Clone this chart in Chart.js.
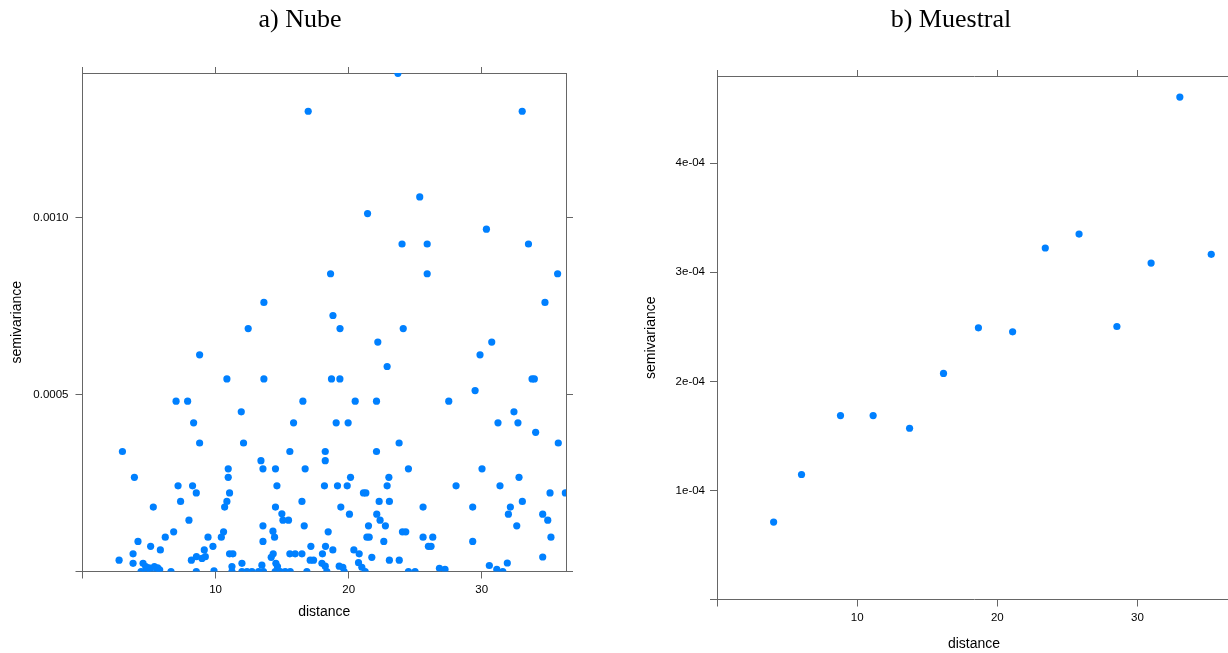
<!DOCTYPE html>
<html>
<head>
<meta charset="utf-8">
<script src="https://cdn.jsdelivr.net/npm/chart.js@4.4.1/dist/chart.umd.min.js"></script>
<style>
  html, body { margin: 0; padding: 0; background: #fff; overflow: hidden; width: 1228px; height: 653px; }
  canvas { position: absolute; top: 0; }
  #cloudChart { left: 0; }
  #sampleChart { left: 614px; }
</style>
</head>
<body>
<canvas id="cloudChart" width="614" height="653"></canvas>
<canvas id="sampleChart" width="660" height="653"></canvas>
<script>
// Panel titles
const cloudTitle = "a) Nube";
const sampleTitle = "b) Muestral";

// Shared x ticks (distance)
const distTicks = [0, 10, 20, 30];
const distLabels = ["", "10", "20", "30"];

// a) semivariogram cloud: [distance, semivariance]
const cloudPoints = [
  [23.7, 14.07e-4], [16.96, 13.0e-4], [33.04, 13.0e-4], [25.34, 10.58e-4], [21.42, 10.11e-4],
  [30.35, 9.67e-4], [24.01, 9.25e-4], [25.9, 9.25e-4], [33.51, 9.25e-4], [18.64, 8.41e-4],
  [25.9, 8.41e-4], [35.7, 8.41e-4], [13.63, 7.6e-4], [34.75, 7.6e-4], [18.82, 7.23e-4],
  [12.45, 6.86e-4], [19.35, 6.86e-4], [24.1, 6.86e-4],
  [22.19, 6.48e-4], [30.75, 6.48e-4], [8.8, 6.12e-4], [29.87, 6.12e-4], [22.89, 5.79e-4],
  [10.85, 5.44e-4], [13.63, 5.44e-4], [18.71, 5.44e-4], [19.34, 5.44e-4], [33.78, 5.44e-4],
  [33.95, 5.44e-4], [29.5, 5.11e-4],
  [7.03, 4.81e-4], [7.9, 4.81e-4], [16.56, 4.81e-4], [20.49, 4.81e-4], [22.09, 4.81e-4], [27.52, 4.81e-4],
  [11.93, 4.51e-4], [32.42, 4.51e-4],
  [8.35, 4.2e-4], [15.86, 4.2e-4], [19.06, 4.2e-4], [19.96, 4.2e-4], [31.22, 4.2e-4], [32.72, 4.2e-4],
  [34.05, 3.93e-4], [8.8, 3.63e-4], [12.1, 3.63e-4], [23.79, 3.63e-4], [35.75, 3.63e-4],
  [3.0, 3.39e-4], [15.58, 3.39e-4], [18.24, 3.39e-4], [22.09, 3.39e-4],
  [13.41, 3.13e-4], [18.24, 3.13e-4],
  [10.95, 2.9e-4], [13.56, 2.9e-4], [14.5, 2.9e-4], [16.73, 2.9e-4], [24.49, 2.9e-4], [30.02, 2.9e-4],
  [3.9, 2.66e-4], [10.95, 2.66e-4], [20.14, 2.66e-4], [23.02, 2.66e-4], [32.8, 2.66e-4],
  [7.18, 2.42e-4], [8.27, 2.42e-4], [14.61, 2.42e-4], [18.18, 2.42e-4], [19.16, 2.42e-4],
  [19.89, 2.42e-4], [22.89, 2.42e-4], [28.07, 2.42e-4], [31.37, 2.42e-4],
  [8.55, 2.22e-4], [11.05, 2.22e-4], [21.11, 2.22e-4], [21.29, 2.22e-4], [35.13, 2.22e-4], [36.28, 2.22e-4],
  [7.37, 1.98e-4], [10.85, 1.98e-4], [16.49, 1.98e-4], [22.29, 1.98e-4], [23.06, 1.98e-4], [33.05, 1.98e-4],
  [5.32, 1.82e-4], [10.68, 1.82e-4], [14.5, 1.82e-4], [19.41, 1.82e-4], [25.59, 1.82e-4],
  [29.32, 1.82e-4], [32.15, 1.82e-4],
  [14.98, 1.63e-4], [20.06, 1.62e-4], [22.11, 1.62e-4], [32.0, 1.62e-4], [34.58, 1.62e-4],
  [8.0, 1.45e-4], [15.06, 1.45e-4], [15.48, 1.45e-4], [22.36, 1.45e-4], [34.96, 1.45e-4],
  [13.56, 1.29e-4], [16.66, 1.29e-4], [21.49, 1.29e-4], [22.76, 1.29e-4], [32.63, 1.29e-4],
  [6.85, 1.12e-4], [10.6, 1.12e-4], [14.31, 1.14e-4], [18.46, 1.12e-4], [24.04, 1.12e-4], [24.29, 1.12e-4],
  [6.22, 0.97e-4], [9.43, 0.97e-4], [10.43, 0.97e-4], [14.43, 0.97e-4], [21.37, 0.97e-4],
  [21.54, 0.97e-4], [25.59, 0.97e-4], [26.32, 0.97e-4], [35.2, 0.97e-4],
  [4.17, 0.85e-4], [13.56, 0.85e-4], [22.64, 0.85e-4], [29.32, 0.85e-4],
  [5.12, 0.71e-4], [9.8, 0.71e-4], [17.16, 0.71e-4], [18.26, 0.71e-4], [25.99, 0.71e-4], [26.19, 0.71e-4],
  [5.85, 0.61e-4], [9.15, 0.61e-4], [18.81, 0.61e-4], [20.39, 0.61e-4],
  [3.8, 0.5e-4], [11.05, 0.5e-4], [11.3, 0.5e-4], [14.33, 0.5e-4], [15.58, 0.5e-4], [15.98, 0.5e-4],
  [16.49, 0.5e-4], [18.03, 0.5e-4], [20.79, 0.5e-4],
  [8.56, 0.42e-4], [9.23, 0.42e-4], [8.98, 0.37e-4], [14.18, 0.4e-4], [21.74, 0.4e-4], [34.58, 0.41e-4],
  [2.75, 0.32e-4], [8.18, 0.32e-4], [17.11, 0.32e-4], [17.36, 0.32e-4], [23.06, 0.32e-4], [23.8, 0.32e-4],
  [3.8, 0.23e-4], [4.55, 0.23e-4], [11.98, 0.23e-4], [14.53, 0.23e-4], [17.99, 0.23e-4],
  [20.74, 0.25e-4], [31.92, 0.24e-4],
  [13.48, 0.18e-4], [30.57, 0.17e-4], [18.24, 0.15e-4], [19.29, 0.15e-4],
  [4.75, 0.14e-4], [5.4, 0.14e-4], [11.23, 0.14e-4], [14.65, 0.14e-4], [19.56, 0.12e-4], [20.99, 0.12e-4],
  [5.0, 0.1e-4], [5.65, 0.1e-4], [26.82, 0.09e-4], [5.8, 0.05e-4], [27.24, 0.06e-4], [31.13, 0.06e-4],
  [9.88, 0.02e-4],
  [4.4, 0], [4.72, 0], [5.1, 0], [5.6, 0], [6.65, 0], [8.55, 0], [11.23, 0], [11.98, 0], [12.36, 0],
  [12.73, 0], [13.23, 0], [13.6, 0], [14.48, 0], [14.86, 0], [15.23, 0], [15.61, 0], [16.86, 0],
  [18.36, 0], [19.66, 0], [21.24, 0], [24.49, 0], [24.99, 0], [31.58, 0]
];
const cloudYTicks = [0, 0.0005, 0.0010];
const cloudYLabels = ["", "0.0005", "0.0010"];

// b) sample variogram
const sampleDist = [4.04, 6.03, 8.81, 11.14, 13.74, 16.16, 18.65, 21.09, 23.42, 25.83, 28.53, 30.97, 33.02, 35.26];
const sampleGamma = [0.710e-4, 1.146e-4, 1.686e-4, 1.686e-4, 1.570e-4, 2.073e-4, 2.491e-4,
  2.454e-4, 3.223e-4, 3.351e-4, 2.503e-4, 3.085e-4, 4.607e-4, 3.165e-4];
const sampleYTicks = [0, 1e-4, 2e-4, 3e-4, 4e-4];
const sampleYLabels = ["", "1e-04", "2e-04", "3e-04", "4e-04"];

const lineColor = "#666";
const dotColor = "#0080ff";
const sansFont = "'Liberation Sans', Arial, sans-serif";
const serifFont = "'Liberation Serif', 'Times New Roman', serif";

function fixedTicks(values) {
  return function (scale) { scale.ticks = values.map(v => ({ value: v })); };
}

function grid(len) {
  return { display: true, drawOnChartArea: false, drawTicks: true, tickLength: len, tickColor: lineColor, lineWidth: 1 };
}

function axes(p) {
  const tickFont = { family: sansFont, size: 11.5 };
  const titleFont = { family: sansFont, size: 14 };
  return {
    x: {
      type: "linear", position: "bottom", min: p.xMin, max: p.xMax, bounds: "data",
      afterBuildTicks: fixedTicks(distTicks),
      afterFit: s => { s.height = p.bottomH; },
      grid: grid(7), border: { display: true, color: lineColor, width: 1 },
      ticks: { autoSkip: false, maxRotation: 0, padding: 4, color: "#000", font: tickFont,
        callback: (v, i) => distLabels[i] },
      title: { display: true, text: "distance", color: "#000", font: titleFont, padding: { top: 0, bottom: p.xTitlePad } }
    },
    x2: {
      type: "linear", position: "top", min: p.xMin, max: p.xMax, bounds: "data",
      afterBuildTicks: fixedTicks(distTicks),
      afterFit: s => { s.height = p.topH; },
      grid: grid(6), border: { display: true, color: lineColor, width: 1 },
      ticks: { display: false }
    },
    y: {
      type: "linear", position: "left", min: 0, max: p.yMax, bounds: "data",
      afterBuildTicks: fixedTicks(p.yTicks),
      afterFit: s => { s.width = p.leftW; },
      grid: grid(7), border: { display: true, color: lineColor, width: 1 },
      ticks: { autoSkip: false, padding: p.yTickPad, color: "#000", font: tickFont,
        callback: (v, i) => p.yLabels[i] },
      title: { display: true, text: "semivariance", color: "#000", font: titleFont, padding: { top: p.yTitlePad, bottom: 0 } }
    },
    y2: {
      type: "linear", position: "right", min: 0, max: p.yMax, bounds: "data",
      afterBuildTicks: fixedTicks(p.yTicks),
      afterFit: s => { s.width = p.rightW; },
      grid: grid(7), border: { display: true, color: lineColor, width: 1 },
      ticks: { display: false }
    }
  };
}

function makeChart(id, title, points, p) {
  return new Chart(document.getElementById(id), {
    type: "scatter",
    data: {
      datasets: [{
        data: points,
        backgroundColor: dotColor,
        borderColor: dotColor,
        pointRadius: 3.6,
        pointHoverRadius: 3.6,
        pointBorderWidth: 0,
        clip: 0
      }]
    },
    options: {
      responsive: false,
      animation: false,
      events: [],
      layout: { padding: { left: p.padL, right: p.padR, top: 0, bottom: 0 } },
      plugins: {
        legend: { display: false },
        tooltip: { enabled: false },
        title: { display: true, text: title, color: "#000",
          font: { family: serifFont, size: 26, weight: "normal" },
          padding: { top: 4.4, bottom: 8 } }
      },
      scales: axes(p)
    }
  });
}

makeChart("cloudChart", cloudTitle, cloudPoints.map(d => ({ x: d[0], y: d[1] })), {
  xMin: 0, xMax: 36.33, yMax: 14.08e-4, yTicks: cloudYTicks, yLabels: cloudYLabels,
  padL: 0, padR: 14, leftW: 82.5, rightW: 34, topH: 29.4, bottomH: 81.5,
  xTitlePad: 32, yTitlePad: 8.6, yTickPad: 7
});

makeChart("sampleChart", sampleTitle, sampleDist.map((d, i) => ({ x: d, y: sampleGamma[i] })), {
  xMin: 0, xMax: 36.67, yMax: 4.8e-4, yTicks: sampleYTicks, yLabels: sampleYLabels,
  padL: 14, padR: 0, leftW: 89, rightW: 43, topH: 32.4, bottomH: 53.5,
  xTitlePad: 0, yTitlePad: 14.6, yTickPad: 5
});
</script>
</body>
</html>
